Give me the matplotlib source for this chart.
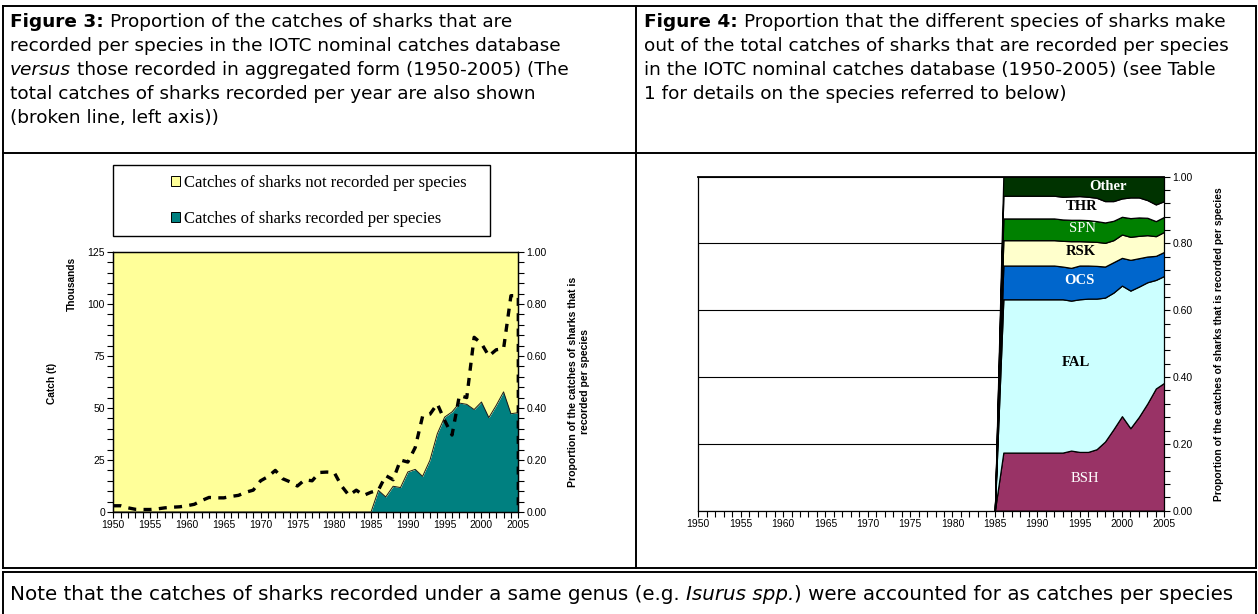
import numpy as np
import matplotlib
matplotlib.use("Agg")
import matplotlib.pyplot as plt
from matplotlib.lines import Line2D
from matplotlib.patches import Rectangle, Patch
from matplotlib.ticker import MultipleLocator, FormatStrFormatter

# ---------------- data ----------------
years = list(range(1950, 2006))
catch_thousands = [3.0, 3.0, 2.0, 1.3, 1.2, 1.2, 1.5, 2.0, 2.3, 2.5,
                   3.0, 3.7, 5.5, 7.0, 6.8, 6.8, 7.5, 8.0, 9.5, 10.5,
                   15.0, 17.0, 20.0, 16.0, 14.5, 12.5, 15.5, 15.0, 19.0, 19.2,
                   19.0, 12.5, 8.0, 10.5, 8.0, 9.5, 10.5, 17.5, 15.5, 25.0,
                   24.0, 31.0, 46.0, 47.0, 52.0, 44.0, 37.0, 56.0, 55.0, 84.0,
                   81.0, 75.0, 78.0, 78.5, 104.0, 104.0]
prop_recorded = [0.0] * 36 + [0.083, 0.058, 0.099, 0.094, 0.154, 0.164, 0.137, 0.199,
                              0.301, 0.365, 0.385, 0.419, 0.414, 0.394, 0.423, 0.363,
                              0.410, 0.462, 0.378, 0.382]

sp_years = list(range(1985, 2006))
species = ["BSH", "FAL", "OCS", "RSK", "SPN", "THR", "Other"]
bsh = [0, .174, .174, .174, .174, .174, .174, .174, .174, .180, .176, .176, .184, .207, .244, .283, .247, .281, .321, .366, .383]
fal = [0, .459, .459, .459, .459, .459, .459, .459, .459, .449, .457, .459, .451, .431, .409, .391, .412, .390, .363, .325, .320]
ocs = [0, .101, .101, .101, .101, .101, .101, .101, .098, .098, .101, .099, .098, .093, .091, .083, .092, .085, .077, .072, .072]
rsk = [0, .076, .076, .076, .076, .076, .076, .076, .077, .080, .073, .072, .072, .071, .066, .070, .069, .067, .064, .059, .060]
spn = [0, .065, .065, .065, .065, .065, .065, .065, .064, .064, .064, .064, .062, .061, .058, .053, .056, .055, .052, .045, .045]
thr = [0, .068, .068, .068, .068, .068, .068, .068, .068, .070, .071, .070, .070, .064, .059, .055, .062, .060, .053, .050, .047]
oth = [0, .057, .057, .057, .057, .057, .057, .057, .060, .059, .058, .060, .063, .073, .073, .065, .062, .062, .070, .083, .073]
sp_colors = ["#993366", "#CCFFFF", "#0066CC", "#FFFFCC", "#008000", "#FFFFFF", "#003300"]

# ---------------- figure ----------------
W, H = 1258, 614
fig = plt.figure(figsize=(W / 100, H / 100), dpi=100)
fig.patch.set_facecolor("white")

def fx(p):
    return p / W

def fy(p):
    return 1 - p / H

def hline(x0, x1, y, lw=1.4):
    fig.add_artist(Line2D([fx(x0), fx(x1)], [fy(y), fy(y)], transform=fig.transFigure, color="black", lw=lw))

def vline(x, y0, y1, lw=1.4):
    fig.add_artist(Line2D([fx(x), fx(x)], [fy(y0), fy(y1)], transform=fig.transFigure, color="black", lw=lw))

# table borders
hline(3, 1256, 6)
hline(3, 1256, 153)
hline(3, 1256, 568)
vline(3, 6, 568)
vline(1256, 6, 568)
vline(636, 6, 568)
hline(3, 1256, 572)
vline(3, 572, 614)
vline(1256, 572, 614)

# text runs helper
renderer = fig.canvas.get_renderer()
HEAD_FONT = "DejaVu Sans"

def space_width(size, family):
    a = fig.text(0, 0, "x x", fontsize=size, family=family)
    b = fig.text(0, 0, "xx", fontsize=size, family=family)
    w = a.get_window_extent(renderer).width - b.get_window_extent(renderer).width
    a.remove(); b.remove()
    return w

def draw_runs(x, y, runs, size, family=HEAD_FONT):
    sw = space_width(size, family)
    cx = x
    for txt, kw in runs:
        if txt.startswith(" "):
            cx += sw
        t = fig.text(fx(cx), fy(y), txt.strip(), fontsize=size, family=family, va="center", ha="left", **kw)
        cx += t.get_window_extent(renderer).width
        if txt.endswith(" "):
            cx += sw

HS = 13.3
LH = 24
left_lines = [
    [("Figure 3: ", dict(weight="bold")), ("Proportion of the catches of sharks that are", {})],
    [("recorded per species in the IOTC nominal catches database", {})],
    [("versus ", dict(style="italic")), ("those recorded in aggregated form (1950-2005) (The", {})],
    [("total catches of sharks recorded per year are also shown", {})],
    [("(broken line, left axis))", {})],
]
right_lines = [
    [("Figure 4: ", dict(weight="bold")), ("Proportion that the different species of sharks make", {})],
    [("out of the total catches of sharks that are recorded per species", {})],
    [("in the IOTC nominal catches database (1950-2005) (see Table", {})],
    [("1 for details on the species referred to below)", {})],
]
for i, runs in enumerate(left_lines):
    draw_runs(10, 22 + i * LH, runs, HS)
for i, runs in enumerate(right_lines):
    draw_runs(644, 22 + i * LH, runs, HS)

draw_runs(10, 594, [("Note that the catches of sharks recorded under a same genus (e.g. ", {}),
                    ("Isurus spp.", dict(style="italic")),
                    (") were accounted for as catches per species", {})], 14.3)

# ---------------- left chart ----------------
TICKFONT = "Liberation Sans"
ax = fig.add_axes([fx(113.3), fy(512), 405 / W, 260 / H])
ax2 = ax.twinx()
ax2.fill_between(years, 0, prop_recorded, color="#008080", lw=0)
ax2.fill_between(years, prop_recorded, 1, color="#FFFF99", lw=0)
ax2.plot(years, prop_recorded, color="#1a1a1a", lw=0.7)
ax2.set_ylim(0, 1)
line_x = years + [years[-1]]
line_y = catch_thousands + [0]
ax.plot(line_x, line_y, color="black", lw=2.4, dashes=(2.4, 2.2), solid_capstyle="butt")
ax.set_ylim(0, 125)
ax.set_xlim(1950, 2005)
ax.set_zorder(ax2.get_zorder() + 1)
ax.patch.set_visible(False)

ax.set_yticks(range(0, 126, 25))
ax.yaxis.set_minor_locator(MultipleLocator(5))
ax2.set_yticks(np.arange(0, 1.01, 0.2))
ax2.yaxis.set_minor_locator(MultipleLocator(0.04))
ax2.yaxis.set_major_formatter(FormatStrFormatter("%.2f"))
for a in (ax, ax2):
    a.set_xticks(range(1950, 2006, 5))
    a.xaxis.set_minor_locator(MultipleLocator(1))
    a.tick_params(which="both", direction="out", length=4, width=0.8, labelsize=7.5, pad=2)
    for lab in a.get_xticklabels() + a.get_yticklabels():
        lab.set_family(TICKFONT)
    for s in a.spines.values():
        s.set_linewidth(0.9)

fig.text(fx(52), fy(383), "Catch (t)", rotation=90, ha="center", va="center", fontsize=7.3, weight="bold", family=TICKFONT)
fig.text(fx(72), fy(284), "Thousands", rotation=90, ha="center", va="center", fontsize=7.3, weight="bold", family=TICKFONT)
fig.text(fx(579), fy(382), "Proportion of the catches of sharks that is\nrecorded per species", rotation=90,
         ha="center", va="center", fontsize=7.6, weight="bold", family=TICKFONT, multialignment="center", linespacing=1.15)

# legend box
fig.add_artist(Rectangle((fx(113), fy(236)), (490 - 113) / W, (236 - 165) / H, transform=fig.transFigure,
                         facecolor="white", edgecolor="black", lw=1.0))
handles = [Patch(facecolor="#FFFF99", edgecolor="black", lw=0.7),
           Patch(facecolor="#008080", edgecolor="black", lw=0.7)]
fig.legend(handles, ["Catches of sharks not recorded per species", "Catches of sharks recorded per species"],
           loc="center left", bbox_to_anchor=(fx(171), fy(201)), frameon=False,
           prop=dict(family="Liberation Serif", size=12.0), handlelength=0.55, handleheight=0.55,
           handletextpad=0.25, labelspacing=1.2, borderpad=0, borderaxespad=0)

# ---------------- right chart ----------------
axr = fig.add_axes([fx(698.3), fy(510.7), 466 / W, 334 / H])
axr.set_axisbelow(True)
axr.stackplot(sp_years, bsh, fal, ocs, rsk, spn, thr, oth, colors=sp_colors, edgecolor="black", lw=0.9, zorder=2)
axr.set_xlim(1950, 2005)
axr.set_ylim(0, 1)
axr.yaxis.tick_right()
axr.set_yticks(np.arange(0, 1.01, 0.2))
axr.yaxis.set_minor_locator(MultipleLocator(0.04))
axr.yaxis.set_major_formatter(FormatStrFormatter("%.2f"))
axr.yaxis.grid(True, which="major", color="black", lw=0.8)
axr.set_xticks(range(1950, 2006, 5))
axr.xaxis.set_minor_locator(MultipleLocator(1))
axr.tick_params(which="both", direction="out", length=4, width=0.8, labelsize=7.5, pad=2)
for lab in axr.get_xticklabels() + axr.get_yticklabels():
    lab.set_family(TICKFONT)
for s in axr.spines.values():
    s.set_linewidth(0.9)
axr.spines["top"].set_linewidth(1.3)

lab_pos = {"Other": (1998.4, 0.970, "white", "bold"),
           "THR": (1995.2, 0.912, "black", "bold"),
           "SPN": (1995.4, 0.845, "white", "normal"),
           "RSK": (1995.2, 0.777, "black", "bold"),
           "OCS": (1995.0, 0.688, "white", "bold"),
           "FAL": (1994.6, 0.443, "black", "bold"),
           "BSH": (1995.6, 0.097, "white", "normal")}
for name in species:
    xx, yy, col, wt = lab_pos[name]
    axr.text(xx, yy, name, ha="center", va="center", color=col, weight=wt, fontsize=10.5,
             family="Liberation Serif", zorder=5)

fig.text(fx(1219), fy(344), "Proportion of the catches of sharks that is recorded per species", rotation=90,
         ha="center", va="center", fontsize=7.4, weight="bold", family=TICKFONT)

fig.savefig("out.png", dpi=100)
